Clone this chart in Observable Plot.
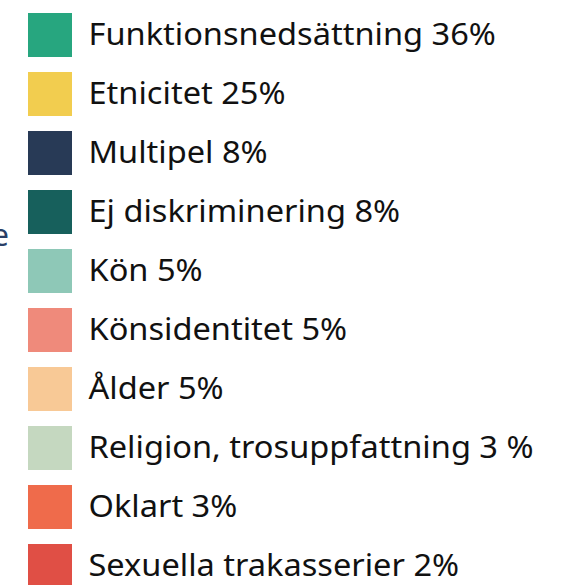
<!DOCTYPE html>
<html><head><meta charset="utf-8">
<script src="https://cdn.jsdelivr.net/npm/d3@7"></script>
<script src="https://cdn.jsdelivr.net/npm/@observablehq/plot@0.6"></script>
<style>
html,body{margin:0;padding:0;background:#fff;overflow:hidden;}
#wrap{position:relative;width:563px;height:585px;overflow:hidden;}
#cut{position:absolute;left:-8px;top:214px;font:30px "Noto Sans",sans-serif;color:#2a3f66;}
</style></head>
<body><div id="wrap"><span id="cut">e</span><div id="chart"></div></div>
<script>
const categories = ["Funktionsnedsättning","Etnicitet","Multipel","Ej diskriminering","Kön","Könsidentitet","Ålder","Religion, trosuppfattning","Oklart","Sexuella trakasserier"];
const shares = ["36%","25%","8%","8%","5%","5%","5%","3 %","3%","2%"];
const colors = ["#27a67f","#f2cd4f","#283a56","#17605c","#8ec8b7","#ef8a7b","#f8c996","#c5d8c0","#ef6b4b","#e04f45"];
const data = categories.map((c,i)=>({cat:c, label:c+" "+shares[i], key:"k"}));
const chart = Plot.plot({
  width:563, height:600,
  marginTop:11, marginBottom:9.5, marginLeft:0, marginRight:0,
  x:{type:"band", domain:["k"], range:[28,72], padding:0, axis:null},
  y:{type:"band", domain:categories, paddingInner:0.2605, paddingOuter:0, axis:null},
  color:{domain:categories, range:colors},
  style:{fontFamily:"'Noto Sans', sans-serif", background:"#fff"},
  marks:[
    Plot.cell(data,{x:"key", y:"cat", fill:"cat", inset:0}),
    Plot.text(data,{x:"key", y:"cat", text:"label", textAnchor:"start", dx:38, dy:-0.5, fontSize:30, fill:"#111", className:"lbl"})
  ]
});
document.getElementById("chart").appendChild(chart);
// widen glyphs to match the reference's wider typeface
const stretch = 1.085;
chart.querySelectorAll(".lbl text").forEach(t => {
  const w = t.getComputedTextLength();
  t.setAttribute("textLength", w * stretch);
  t.setAttribute("lengthAdjust", "spacingAndGlyphs");
});
</script></body></html>
